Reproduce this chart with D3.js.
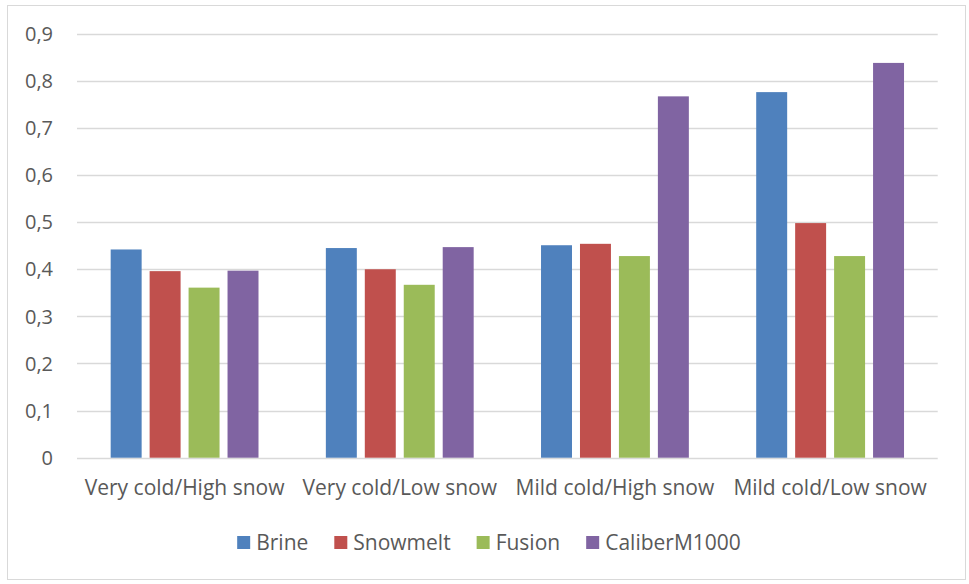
<!DOCTYPE html>
<html>
<head>
<meta charset="utf-8">
<script src="https://cdn.jsdelivr.net/npm/d3@7/dist/d3.min.js"></script>
<style>
  body { margin: 0; background: #fff; }
  svg text { font-family: "Open Sans", sans-serif; fill: #595959; }
</style>
</head>
<body>
<div id="chart"></div>
<script>
// data
var categories = ["Very cold/High snow", "Very cold/Low snow", "Mild cold/High snow", "Mild cold/Low snow"];
var seriesNames = ["Brine", "Snowmelt", "Fusion", "CaliberM1000"];
var brine = [0.442, 0.445, 0.451, 0.776];
var snowmelt = [0.396, 0.400, 0.454, 0.498];
var fusion = [0.361, 0.367, 0.428, 0.428];
var caliber = [0.397, 0.447, 0.767, 0.838];
var yTicks = [0, 0.1, 0.2, 0.3, 0.4, 0.5, 0.6, 0.7, 0.8, 0.9];
var colors = ["#4F81BD", "#C0504D", "#9BBB59", "#8064A2"];

var values = [brine, snowmelt, fusion, caliber];
var W = 969, H = 584;

var svg = d3.select("#chart").append("svg")
    .attr("width", W).attr("height", H);

// outer chart border
svg.append("rect")
    .attr("x", 7.5).attr("y", 5.5)
    .attr("width", 958).attr("height", 574)
    .attr("fill", "#fff").attr("stroke", "#d9d9d9");

var plotLeft = 77, plotRight = 937.7, plotTop = 33.7, plotBottom = 457.7;

var y = d3.scaleLinear().domain([0, 0.9]).range([plotBottom, plotTop]);

var x0 = d3.scaleBand().domain(categories).range([plotLeft, plotRight])
    .paddingInner(0.313).paddingOuter(0.1565);
var x1 = d3.scaleBand().domain(seriesNames).range([0, x0.bandwidth()])
    .paddingInner(0.205);

// gridlines
svg.append("g").selectAll("line")
    .data(yTicks)
    .enter().append("line")
    .attr("x1", plotLeft).attr("x2", plotRight)
    .attr("y1", function(d) { return Math.round(y(d)) + 0.5; })
    .attr("y2", function(d) { return Math.round(y(d)) + 0.5; })
    .attr("stroke", "#d9d9d9").attr("stroke-width", 1.3);

// y tick labels
svg.append("g").selectAll("text")
    .data(yTicks)
    .enter().append("text")
    .attr("x", 53)
    .attr("y", function(d) { return y(d); })
    .attr("dy", "0.36em")
    .attr("text-anchor", "end")
    .style("font-size", "20px")
    .text(function(d) { return d === 0 ? "0" : d3.format(".1f")(d).replace(".", ","); });

// bars
var groups = svg.append("g").selectAll("g")
    .data(categories)
    .enter().append("g")
    .attr("transform", function(d) { return "translate(" + x0(d) + ",0)"; });

groups.selectAll("rect")
    .data(function(d, i) {
        return seriesNames.map(function(s, j) { return { s: s, v: values[j][i], c: colors[j] }; });
    })
    .enter().append("rect")
    .attr("x", function(d) { return x1(d.s); })
    .attr("width", x1.bandwidth())
    .attr("y", function(d) { return y(d.v); })
    .attr("height", function(d) { return plotBottom - y(d.v); })
    .attr("fill", function(d) { return d.c; });

// category labels
svg.append("g").selectAll("text")
    .data(categories)
    .enter().append("text")
    .attr("x", function(d) { return x0(d) + x0.bandwidth() / 2; })
    .attr("y", 495)
    .attr("text-anchor", "middle")
    .style("font-size", "21px")
    .text(function(d) { return d; });

// legend
var legend = svg.append("g");
var item = legend.selectAll("g")
    .data(seriesNames)
    .enter().append("g");
item.append("rect")
    .attr("width", 13).attr("height", 13)
    .attr("y", 536)
    .attr("fill", function(d, i) { return colors[i]; });
item.append("text")
    .attr("x", 19).attr("y", 549.5)
    .style("font-size", "21px")
    .text(function(d) { return d; });

var pos = 0;
item.each(function() {
    var g = d3.select(this);
    g.attr("transform", "translate(" + pos + ",0)");
    pos += 19 + g.select("text").node().getComputedTextLength() + 26;
});
var total = pos - 26;
legend.attr("transform", "translate(" + (489 - total / 2) + ",0)");
</script>
</body>
</html>
